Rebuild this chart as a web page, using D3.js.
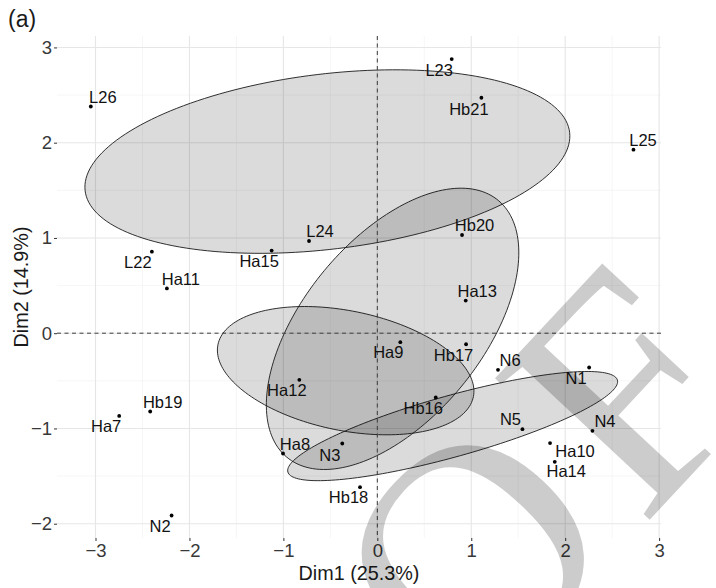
<!DOCTYPE html>
<html>
<head>
<meta charset="utf-8">
<script src="https://cdn.jsdelivr.net/npm/d3@7"></script>
<style>
  body { margin: 0; background: #fff; }
  svg { display: block; }
</style>
</head>
<body>
<svg id="chart" width="716" height="588"></svg>
<script>
// PCA individuals map: sample names and their coordinates on the first two dimensions
const samples = ["N1","N2","N3","N4","N5","N6",
  "Ha7","Ha8","Ha9","Ha10","Ha11","Ha12","Ha13","Ha14","Ha15",
  "Hb16","Hb17","Hb18","Hb19","Hb20","Hb21",
  "L22","L23","L24","L25","L26"];
const dim1 = [2.255,-2.19,-0.373,2.29,1.545,1.285,
  -2.748,-1.004,0.245,1.839,-2.24,-0.83,0.941,1.889,-1.125,
  0.622,0.945,-0.184,-2.418,0.902,1.108,
  -2.40,0.792,-0.727,2.727,-3.05];
const dim2 = [-0.36,-1.914,-1.158,-1.025,-1.008,-0.385,
  -0.868,-1.263,-0.094,-1.154,0.47,-0.49,0.342,-1.35,0.867,
  -0.675,-0.116,-1.616,-0.822,1.031,2.472,
  0.856,2.878,0.968,1.927,2.38];
const groupNames = ["N","Ha","Hb","L"];

const xTicks = [-3,-2,-1,0,1,2,3];
const yTicks = [-2,-1,0,1,2,3];
const xMinor = [-2.5,-1.5,-0.5,0.5,1.5,2.5];
const yMinor = [-1.5,-0.5,0.5,1.5,2.5];
const xTitle = "Dim1 (25.3%)";
const yTitle = "Dim2 (14.9%)";
const panelTag = "(a)";
const watermark = "PROOF";

// label offsets (pixels) from each point, as placed by the repel layout
const labelNudge = {
  L26:[12,-3.5], L22:[-14,16.5], Ha11:[14,-3.5], Ha15:[-12.5,16.5], L24:[11,-3.5],
  L23:[-12.5,17], Hb21:[-12.5,17], L25:[9.5,-3.5], Hb20:[12.5,-3.5], Ha13:[11.5,-3.5],
  Ha9:[-12,16], Hb17:[-12.5,17], N6:[12,-4], N1:[-13,16.5], Hb16:[-12.5,16.5],
  N5:[-12,-4], N4:[12.5,-3.5], Ha10:[25,13.5], Ha14:[11.5,15.5], Hb18:[-11.5,16],
  Ha12:[-12.5,16.5], Hb19:[12.5,-3.5], Ha7:[-13,16.5], Ha8:[12,-3.5], N3:[-12.5,17],
  N2:[-11.5,16.5]
};

const rows = samples.map((s, i) => ({
  name: s, x: dim1[i], y: dim2[i], group: s.replace(/[0-9]+$/, "")
}));

const svg = d3.select("#chart");
const panel = { left: 57, right: 661, top: 36, bottom: 538 };

const x = d3.scaleLinear().domain([-3.41, 3.02]).range([panel.left, panel.right]);
const y = d3.scaleLinear().domain([-2.15, 3.12]).range([panel.bottom, panel.top]);

const FONT = "'Liberation Sans', Arial, Helvetica, sans-serif";

// grid
const grid = svg.append("g");
grid.selectAll(".vminor").data(xMinor).join("line")
  .attr("x1", d => x(d)).attr("x2", d => x(d))
  .attr("y1", panel.top).attr("y2", panel.bottom)
  .attr("stroke", "#f2f2f2").attr("stroke-width", 0.7);
grid.selectAll(".hminor").data(yMinor).join("line")
  .attr("y1", d => y(d)).attr("y2", d => y(d))
  .attr("x1", panel.left).attr("x2", panel.right)
  .attr("stroke", "#f2f2f2").attr("stroke-width", 0.7);
grid.selectAll(".vmajor").data(xTicks).join("line")
  .attr("x1", d => x(d)).attr("x2", d => x(d))
  .attr("y1", panel.top).attr("y2", panel.bottom)
  .attr("stroke", "#e6e6e6").attr("stroke-width", 1.1);
grid.selectAll(".hmajor").data(yTicks).join("line")
  .attr("y1", d => y(d)).attr("y2", d => y(d))
  .attr("x1", panel.left).attr("x2", panel.right)
  .attr("stroke", "#e6e6e6").attr("stroke-width", 1.1);

// 95% confidence ellipses around each group mean
const chi2 = 5.991464547; // qchisq(0.95, 2)
function confEllipse(pts) {
  const n = pts.length;
  const mx = d3.mean(pts, p => p.x), my = d3.mean(pts, p => p.y);
  let a = 0, b = 0, c = 0;
  pts.forEach(p => {
    const dx = p.x - mx, dy = p.y - my;
    a += dx * dx; b += dx * dy; c += dy * dy;
  });
  a /= (n - 1); b /= (n - 1); c /= (n - 1);
  const mid = (a + c) / 2, rad = Math.sqrt(((a - c) / 2) ** 2 + b * b);
  const l1 = mid + rad, l2 = mid - rad;
  const th = 0.5 * Math.atan2(2 * b, a - c);
  const k = Math.sqrt(chi2 / n);
  const r1 = k * Math.sqrt(l1), r2 = k * Math.sqrt(l2);
  const ct = Math.cos(th), st = Math.sin(th);
  return d3.range(0, 180).map(i => {
    const t = i / 180 * 2 * Math.PI;
    const u = r1 * Math.cos(t), v = r2 * Math.sin(t);
    return [mx + u * ct - v * st, my + u * st + v * ct];
  });
}
const ellLine = d3.line().x(d => x(d[0])).y(d => y(d[1])).curve(d3.curveLinearClosed);
svg.append("g").selectAll("path")
  .data(groupNames.map(g => confEllipse(rows.filter(r => r.group === g))))
  .join("path")
  .attr("d", ellLine)
  .attr("fill", "#000").attr("fill-opacity", 0.14)
  .attr("stroke", "#1a1a1a").attr("stroke-width", 0.9);

// reference lines through the origin
svg.append("line")
  .attr("x1", panel.left).attr("x2", panel.right)
  .attr("y1", y(0)).attr("y2", y(0))
  .attr("stroke", "#3d3d3d").attr("stroke-width", 1).attr("stroke-dasharray", "4,3.5");
svg.append("line")
  .attr("x1", x(0)).attr("x2", x(0))
  .attr("y1", panel.top).attr("y2", panel.bottom)
  .attr("stroke", "#3d3d3d").attr("stroke-width", 1).attr("stroke-dasharray", "4,3.5");

// axes
const fmt = d => d < 0 ? "\u2212" + Math.abs(d) : String(d);
const xAxis = svg.append("g").attr("transform", `translate(0,${panel.bottom})`)
  .call(d3.axisBottom(x).tickValues(xTicks).tickFormat(fmt).tickSizeInner(3).tickSizeOuter(0).tickPadding(3));
const yAxis = svg.append("g").attr("transform", `translate(${panel.left},0)`)
  .call(d3.axisLeft(y).tickValues(yTicks).tickFormat(fmt).tickSizeInner(3).tickSizeOuter(0).tickPadding(2));
[xAxis, yAxis].forEach(g => {
  g.select(".domain").remove();
  g.selectAll(".tick line").attr("stroke", "#333").attr("stroke-width", 1);
  g.selectAll(".tick text").attr("fill", "#383838")
    .style("font-family", FONT).style("font-size", "18.5px");
});
xAxis.selectAll(".tick text").attr("dy", "0.72em");

// points and labels
svg.append("g").selectAll("circle").data(rows).join("circle")
  .attr("cx", d => x(d.x)).attr("cy", d => y(d.y)).attr("r", 1.9).attr("fill", "#000");
svg.append("g").selectAll("text").data(rows).join("text")
  .attr("x", d => x(d.x) + labelNudge[d.name][0])
  .attr("y", d => y(d.y) + labelNudge[d.name][1])
  .attr("text-anchor", "middle")
  .style("font-family", FONT).style("font-size", "16.5px").attr("fill", "#111")
  .text(d => d.name);

// titles
svg.append("text").attr("x", (panel.left + panel.right) / 2).attr("y", 580)
  .attr("text-anchor", "middle").style("font-family", FONT).style("font-size", "19.8px")
  .attr("fill", "#1a1a1a").text(xTitle);
svg.append("text")
  .attr("transform", `translate(27.7,${(panel.top + panel.bottom) / 2}) rotate(-90)`)
  .attr("text-anchor", "middle").style("font-family", FONT).style("font-size", "19.8px")
  .attr("fill", "#1a1a1a").text(yTitle);
svg.append("text").attr("x", 8).attr("y", 27)
  .style("font-family", FONT).style("font-size", "23px").attr("fill", "#1a1a1a").text(panelTag);

// proof stamp across the lower right: the last letter's origin is pinned to a fixed spot
const stamp = svg.append("text")
  .style("font-family", "'Liberation Serif', 'Times New Roman', serif")
  .style("font-size", "320px")
  .style("letter-spacing", "20px")
  .attr("fill", "#000").attr("fill-opacity", 0.2)
  .style("pointer-events", "none")
  .text(watermark);
const lastStart = stamp.node().getStartPositionOfChar(watermark.length - 1);
stamp.attr("transform", `translate(642,528) rotate(-47) translate(${-lastStart.x},0)`);
</script>
</body>
</html>
